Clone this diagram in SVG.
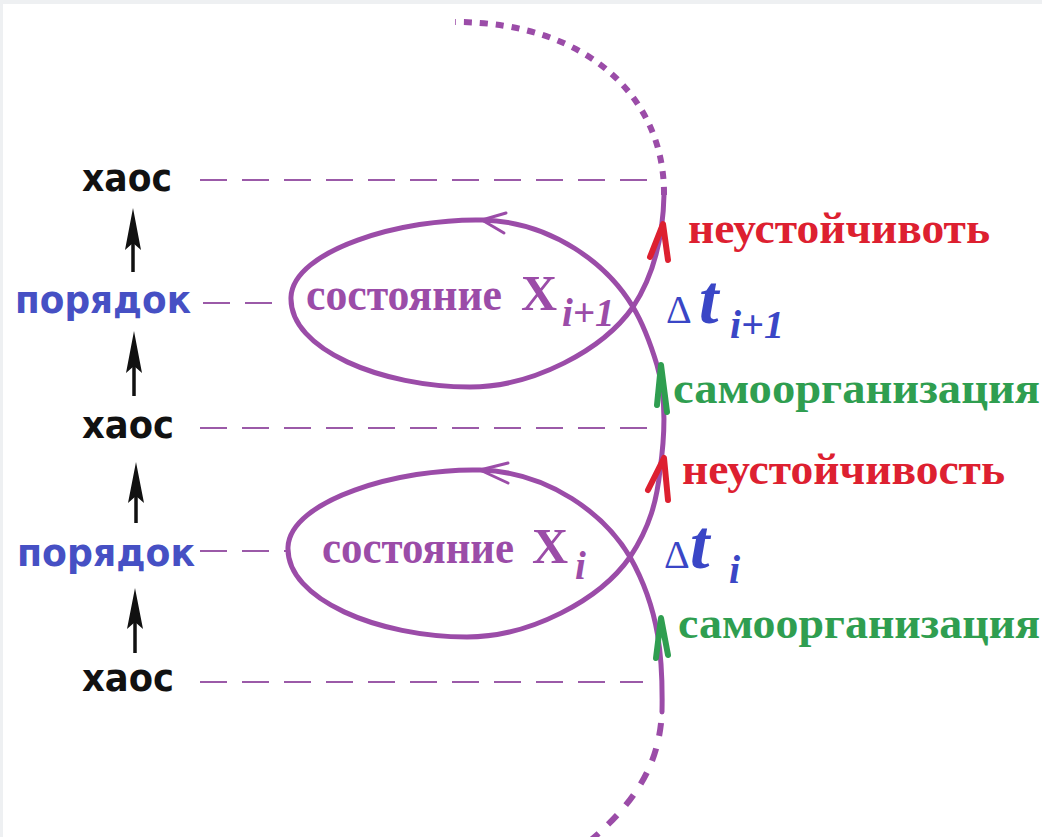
<svg xmlns="http://www.w3.org/2000/svg" width="1042" height="837" viewBox="0 0 1042 837">
  <style>
    .sans { font-family: "DejaVu Sans", "Liberation Sans", sans-serif; font-weight: bold; }
    .serif { font-family: "Liberation Serif", "Times New Roman", serif; font-weight: bold; }
    .chaos { fill: #111111; font-size: 38px; }
    .order { fill: #4650c4; font-size: 38px; }
    .guide { stroke: #9b5aa8; stroke-width: 2; stroke-dasharray: 27 15; fill: none; }
    .curve { stroke: #9b4ca8; stroke-width: 5; fill: none; stroke-linecap: round; stroke-linejoin: round; }
    .curve-dash { stroke: #9b4ca8; stroke-width: 6; fill: none; }
    .chev { stroke: #9b4ca8; stroke-width: 3; fill: none; stroke-linecap: round; stroke-linejoin: round; }
    .state { fill: #9b4ca8; }
    .unstable { fill: #dd2030; font-size: 45px; }
    .selforg { fill: #2f9e50; font-size: 45px; }
    .red-tick { stroke: #dd2030; stroke-width: 6; fill: none; stroke-linecap: round; stroke-linejoin: round; }
    .green-tick { stroke: #2f9e50; stroke-width: 6; fill: none; stroke-linecap: round; stroke-linejoin: round; }
    .delta { fill: #3a46c6; }
    .up { fill: #111111; }
    .shaft { stroke: #111111; stroke-width: 3.5; }
  </style>

  <!-- page background with thin grey frame -->
  <rect x="0" y="0" width="1042" height="837" fill="#eef0f2"/>
  <rect x="3" y="4" width="1039" height="833" fill="#ffffff"/>

  <g id="connectors">
    <!-- horizontal guide lines from the level labels -->
    <line class="guide" x1="200" y1="180" x2="650" y2="180"/>
    <line class="guide" x1="203" y1="303" x2="285" y2="303"/>
    <line class="guide" x1="200" y1="428" x2="650" y2="428"/>
    <line class="guide" x1="200" y1="551" x2="287" y2="551"/>
    <line class="guide" x1="200" y1="682" x2="643" y2="682"/>

    <!-- upward arrows between levels -->
    <g id="arrow-1">
      <line class="shaft" x1="133" y1="240" x2="133" y2="272"/>
      <polygon class="up" points="133,208 141,250 133,243 125,250"/>
    </g>
    <g id="arrow-2">
      <line class="shaft" x1="134" y1="363" x2="134" y2="396"/>
      <polygon class="up" points="134,331 142,373 134,366 126,373"/>
    </g>
    <g id="arrow-3">
      <line class="shaft" x1="136" y1="493" x2="136" y2="523"/>
      <polygon class="up" points="136,462 144,503 136,496 128,503"/>
    </g>
    <g id="arrow-4">
      <line class="shaft" x1="135" y1="620" x2="135" y2="653"/>
      <polygon class="up" points="135,588 143,629 135,622 127,629"/>
    </g>

    <!-- trajectory: dashed lead-in from below -->
    <path class="curve-dash" d="M 662 710 C 660 760, 640 800, 585 845" stroke-dasharray="13 13" stroke-dashoffset="13"/>
    <!-- trajectory: solid spiral with two loops -->
    <path id="trajectory" class="curve" d="M 662 712
      C 663 660, 660 610, 630 557
      C 605 515, 550 472, 480 470
      C 400 468, 290 500, 288 547
      C 286 600, 380 637, 467 637
      C 530 637, 600 600, 630 557
      C 650 527, 657 500, 660 470
      C 665 435, 666 395, 657 365
      C 650 342, 642 322, 633 307
      C 608 265, 553 222, 483 220
      C 403 218, 293 250, 291 297
      C 289 350, 383 387, 470 387
      C 533 387, 603 350, 633 307
      C 652 278, 663 240, 664 195"/>
    <!-- trajectory: dashed continuation upward -->
    <path class="curve-dash" d="M 664 195 C 665 100, 590 22, 455 22" stroke-dasharray="8 8"/>

    <!-- direction marks on the loops -->
    <polyline class="chev" points="506,213 482,220 504,233"/>
    <polyline class="chev" points="508,463 480,470 508,483"/>

    <!-- phase marks on the trajectory -->
    <polyline class="red-tick" points="650,257 663,224 668,260"/>
    <polyline class="green-tick" points="657,405 661,365 667,412"/>
    <polyline class="red-tick" points="648,490 664,458 668,500"/>
    <polyline class="green-tick" points="656,658 661,618 668,655"/>
  </g>

  <g id="chaos-top">
    <text class="sans chaos" x="82" y="191" textLength="90" lengthAdjust="spacingAndGlyphs">хаос</text>
  </g>
  <g id="order-upper">
    <text class="sans order" x="15" y="313" textLength="176" lengthAdjust="spacingAndGlyphs">порядок</text>
  </g>
  <g id="chaos-middle">
    <text class="sans chaos" x="82" y="438" textLength="92" lengthAdjust="spacingAndGlyphs">хаос</text>
  </g>
  <g id="order-lower">
    <text class="sans order" x="17" y="566" textLength="178" lengthAdjust="spacingAndGlyphs">порядок</text>
  </g>
  <g id="chaos-bottom">
    <text class="sans chaos" x="82" y="691" textLength="92" lengthAdjust="spacingAndGlyphs">хаос</text>
  </g>

  <g id="state-upper">
    <text class="serif state" y="310" font-size="46"><tspan x="306" textLength="196" lengthAdjust="spacingAndGlyphs">состояние</tspan><tspan x="521" font-size="50">X</tspan><tspan x="562" y="326" font-size="39" font-style="italic">i+1</tspan></text>
  </g>
  <g id="state-lower">
    <text class="serif state" y="563" font-size="46"><tspan x="322" textLength="192" lengthAdjust="spacingAndGlyphs">состояние</tspan><tspan x="532" font-size="50">X</tspan><tspan x="575" y="579" font-size="39" font-style="italic">i</tspan></text>
  </g>

  <g id="interval-upper">
    <text class="serif delta" y="323"><tspan x="666" font-size="40" font-weight="normal">Δ</tspan><tspan x="699" font-size="70" font-style="italic">t</tspan><tspan x="730" y="338" font-size="40" font-style="italic">i+1</tspan></text>
  </g>
  <g id="interval-lower">
    <text class="serif delta" y="568"><tspan x="664" font-size="40" font-weight="normal">Δ</tspan><tspan x="690" font-size="70" font-style="italic">t</tspan><tspan x="729" y="583" font-size="40" font-style="italic">i</tspan></text>
  </g>

  <g id="instability-upper">
    <text class="serif unstable" x="688" y="243" textLength="302" lengthAdjust="spacingAndGlyphs">неустойчивоть</text>
  </g>
  <g id="selforg-upper">
    <text class="serif selforg" x="673" y="403" textLength="367" lengthAdjust="spacingAndGlyphs">самоорганизация</text>
  </g>
  <g id="instability-lower">
    <text class="serif unstable" x="682" y="484" textLength="323" lengthAdjust="spacingAndGlyphs">неустойчивость</text>
  </g>
  <g id="selforg-lower">
    <text class="serif selforg" x="678" y="638" textLength="362" lengthAdjust="spacingAndGlyphs">самоорганизация</text>
  </g>
</svg>
